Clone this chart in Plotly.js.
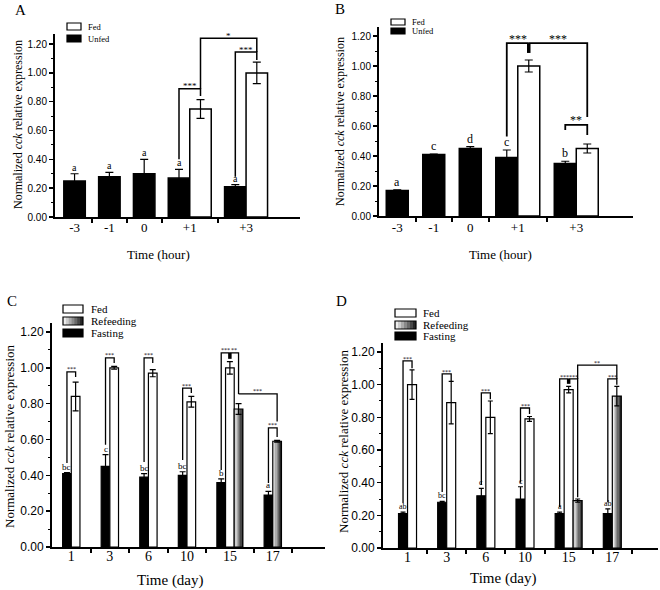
<!DOCTYPE html>
<html><head><meta charset="utf-8">
<script src="https://cdn.plot.ly/plotly-3.0.1.min.js"></script>
<style>html,body{margin:0;padding:0;background:#fff;} #chart{width:660px;height:590px;}</style>
</head><body><div id="chart"></div>
<script>
// ================= DATA =================
// Panel A – time in hours
const hoursA = ['-3', '-1', '0', '+1', '+3'];
const unfedA = [0.25, 0.28, 0.30, 0.27, 0.21];
const unfedErrA = [0.05, 0.03, 0.10, 0.06, 0.015];
const fedA = [null, null, null, 0.75, 1.00];
const fedErrA = [null, null, null, 0.065, 0.075];
const lettersA = ['a', 'a', 'a', 'a', 'a'];
// brackets: [group1, series1, group2, series2, level, leg1 bottom, leg2 bottom, label]
const sigA = [
  [3, 'Unfed', 3, 'Fed', 0.89, 0.40, 0.84, '***'],
  [4, 'Unfed', 4, 'Fed', 1.145, 0.28, 1.09, '***'],
  [3, 'Fed', 4, 'Fed', 1.24, 0.89, 1.145, '*']
];
const stemA = [];

// Panel B – time in hours
const hoursB = ['-3', '-1', '0', '+1', '+3'];
const unfedB = [0.17, 0.41, 0.45, 0.39, 0.35];
const unfedErrB = [0.005, 0.003, 0.012, 0.05, 0.015];
const fedB = [null, null, null, 1.00, 0.45];
const fedErrB = [null, null, null, 0.04, 0.03];
const lettersB = ['a', 'c', 'd', 'c', 'b'];
const sigB = [
  [3, 'Unfed', 3, 'Fed', 1.153, 0.53, 1.153, '***'],
  [3, 'Fed', 4, 'Fed', 1.153, 1.153, 0.66, '***'],
  [4, 'Unfed', 4, 'Fed', 0.607, 0.573, 0.54, '**']
];
const stemB = [[3, 'Fed', 1.087, 1.153]];

// Panel C – time in days
const daysC = ['1', '3', '6', '10', '15', '17'];
const fastingC = [0.41, 0.45, 0.39, 0.40, 0.36, 0.29];
const fastingErrC = [0.005, 0.065, 0.02, 0.02, 0.02, 0.02];
const fedC = [0.84, 1.00, 0.97, 0.81, 1.00, null];
const fedErrC = [0.08, 0.008, 0.02, 0.03, 0.035, null];
const refeedC = [null, null, null, null, 0.77, 0.59];
const refeedErrC = [null, null, null, null, 0.03, 0.005];
const lettersC = ['bc', 'c', 'bc', 'bc', 'b', 'a'];
const sigC = [
  [0, 'Fasting', 0, 'Fed', 0.977, 0.469, 0.949, '***'],
  [1, 'Fasting', 1, 'Fed', 1.055, 0.57, 1.027, '***'],
  [2, 'Fasting', 2, 'Fed', 1.055, 0.474, 1.027, '***'],
  [3, 'Fasting', 3, 'Fed', 0.887, 0.485, 0.86, '***'],
  [4, 'Fasting', 4, 'Fed', 1.083, 0.43, 1.083, '***'],
  [4, 'Fed', 4, 'Refeeding', 1.083, 1.083, 0.854, '**'],
  [4, 'Refeeding', 5, 'Refeeding', 0.854, 0.854, 0.70, '***'],
  [5, 'Fasting', 5, 'Refeeding', 0.665, 0.357, 0.614, '***']
];
const stemC = [[4, 'Fed', 1.05, 1.083]];

// Panel D – time in days
const daysD = ['1', '3', '6', '10', '15', '17'];
const fastingD = [0.21, 0.28, 0.32, 0.30, 0.21, 0.21];
const fastingErrD = [0.01, 0.005, 0.045, 0.075, 0.01, 0.03];
const fedD = [1.00, 0.89, 0.80, 0.79, 0.97, null];
const fedErrD = [0.09, 0.13, 0.10, 0.015, 0.02, null];
const refeedD = [null, null, null, null, 0.29, 0.93];
const refeedErrD = [null, null, null, null, 0.01, 0.06];
const lettersD = ['ab', 'bc', 'c', 'c', 'a', 'ab'];
const sigD = [
  [0, 'Fasting', 0, 'Fed', 1.145, 0.276, 1.10, '***'],
  [1, 'Fasting', 1, 'Fed', 1.066, 0.343, 1.02, '***'],
  [2, 'Fasting', 2, 'Fed', 0.95, 0.386, 0.91, '***'],
  [3, 'Fasting', 3, 'Fed', 0.857, 0.40, 0.82, '***'],
  [4, 'Fasting', 4, 'Fed', 1.035, 0.25, 1.035, '***'],
  [4, 'Fed', 4, 'Refeeding', 1.035, 1.035, 0.31, '***'],
  [5, 'Fasting', 5, 'Refeeding', 1.035, 0.28, 1.00, '***'],
  [4, 'Refeeding', 5, 'Refeeding', 1.12, 1.035, 1.035, '**']
];
const stemD = [[4, 'Fed', 1.005, 1.035]];

const yTitle = 'Normalized <i>cck</i> relative expression';
const xTitleHour = 'Time (hour)';
const xTitleDay = 'Time (day)';

// ================= STYLE / LAYOUT =================
const SERIF = '"Liberation Serif", "Times New Roman", serif';
const SANS = '"Liberation Sans", Arial, sans-serif';
const W = 660, H = 590;
const px = x => x / W, py = y => 1 - y / H;
const NSTEP = 7;
function gradColor(t) {
  const v = Math.round(238 - t * 200);
  return 'rgb(' + v + ',' + v + ',' + v + ')';
}

const panels = [
  { tag: 'A', labels: hoursA, xTitle: xTitleHour,
    series: [{ name: 'Unfed', vals: unfedA, err: unfedErrA, style: 'black' },
             { name: 'Fed', vals: fedA, err: fedErrA, style: 'white' }],
    legendOrder: ['Fed', 'Unfed'], letters: lettersA, sig: sigA, stems: stemA,
    xdom: [55, 300], ydom: [34, 217], xrange: [-0.1, 11.3], ymax: 1.27, gap: 0.62, endTick: false,
    yts: 10, xts: 13, xStandoff: -3, titleSize: 12, xTitleSize: 13, letterSize: 10, sigSize: 9, sigShift: -3.5,
    capW: 4, barLine: 1.5, brLine: 1.5,
    yTitlePos: [18, 125], xTitlePos: [158, 255], tagPos: [20, 10],
    leg: { x0: 67, x1: 81, tops: [23, 35], h: 7, tx: 86, size: 8.5 } },
  { tag: 'B', labels: hoursB, xTitle: xTitleHour,
    series: [{ name: 'Unfed', vals: unfedB, err: unfedErrB, style: 'black' },
             { name: 'Fed', vals: fedB, err: fedErrB, style: 'white' }],
    legendOrder: ['Fed', 'Unfed'], letters: lettersB, sig: sigB, stems: stemB,
    xdom: [379, 633], ydom: [27, 216], xrange: [0, 11.55], ymax: 1.26, gap: 0.66, endTick: false,
    yts: 10, xts: 13, xStandoff: -2, titleSize: 12, xTitleSize: 13, letterSize: 12, sigSize: 12, sigShift: -3.5,
    capW: 4, barLine: 1.5, brLine: 1.8,
    yTitlePos: [340, 122], xTitlePos: [500, 255], tagPos: [340, 9],
    leg: { x0: 391, x1: 405, tops: [19, 28], h: 6, tx: 410, size: 8.5 } },
  { tag: 'C', labels: daysC, xTitle: xTitleDay,
    series: [{ name: 'Fasting', vals: fastingC, err: fastingErrC, style: 'black' },
             { name: 'Fed', vals: fedC, err: fedErrC, style: 'white' },
             { name: 'Refeeding', vals: refeedC, err: refeedErrC, style: 'gradient' }],
    legendOrder: ['Fed', 'Refeeding', 'Fasting'], letters: lettersC, sig: sigC, stems: stemC,
    xdom: [52, 325], ydom: [323, 547], xrange: [0, 31.5], ymax: 1.25, gap: 2.45, endTick: true,
    yts: 12, xts: 14, xStandoff: -5, titleSize: 13, xTitleSize: 15, letterSize: 9, sigSize: 6, sigShift: -1.5,
    capW: 3, barLine: 1.2, brLine: 1.3,
    yTitlePos: [9, 436], xTitlePos: [170, 580], tagPos: [12, 301],
    leg: { x0: 63, x1: 83, tops: [305, 317, 329], h: 8, tx: 89, size: 11 } },
  { tag: 'D', labels: daysD, xTitle: xTitleDay,
    series: [{ name: 'Fasting', vals: fastingD, err: fastingErrD, style: 'black' },
             { name: 'Fed', vals: fedD, err: fedErrD, style: 'white' },
             { name: 'Refeeding', vals: refeedD, err: refeedErrD, style: 'gradient' }],
    legendOrder: ['Fed', 'Refeeding', 'Fasting'], letters: lettersD, sig: sigD, stems: stemD,
    xdom: [383, 658], ydom: [343, 548], xrange: [-0.55, 30.0], ymax: 1.255, gap: 2.35, endTick: true,
    yts: 12, xts: 14, xStandoff: -5, titleSize: 13, xTitleSize: 15, letterSize: 8, sigSize: 6, sigShift: -2,
    capW: 2.5, barLine: 1.2, brLine: 1.3,
    yTitlePos: [343, 441], xTitlePos: [503, 578], tagPos: [341, 301],
    leg: { x0: 395, x1: 416, tops: [309, 321, 332], h: 8, tx: 421, size: 11 } }
];

// place groups side by side; each group is as wide as its bars plus a gap
function layoutGroups(seriesVals, nGroups, gap) {
  const centers = seriesVals.map(() => new Array(nGroups).fill(null));
  const ends = [], mids = [];
  let pos = 0;
  for (let g = 0; g < nGroups; g++) {
    let k = 0;
    seriesVals.forEach((v, s) => {
      if (v[g] != null) { centers[s][g] = pos + gap / 2 + k + 0.5; k++; }
    });
    mids.push(pos + (k + gap) / 2);
    pos += k + gap;
    ends.push(pos);
  }
  return { centers, ends, mids };
}

const data = [], shapes = [], annotations = [];
const layout = {
  width: W, height: H, margin: { l: 0, r: 0, t: 0, b: 0 },
  paper_bgcolor: '#fff', plot_bgcolor: 'rgba(0,0,0,0)',
  showlegend: false, barmode: 'overlay', bargap: 0,
  shapes: shapes, annotations: annotations,
  font: { family: SERIF, color: '#000' }
};

function txt(x, y, text, size, family, opts) {
  annotations.push(Object.assign({ x: x, y: y, xref: 'paper', yref: 'paper', text: text,
    showarrow: false, font: { family: family, size: size, color: '#000' },
    xanchor: 'center', yanchor: 'middle' }, opts || {}));
}

panels.forEach((P, i) => {
  const n = i === 0 ? '' : String(i + 1);
  const xa = 'x' + n, ya = 'y' + n;
  const L = layoutGroups(P.series.map(s => s.vals), P.labels.length, P.gap);
  const sIdx = name => P.series.findIndex(s => s.name === name);
  const cx = (g, name) => L.centers[sIdx(name)][g];

  P.series.forEach((s, si) => {
    const xs = [], ys = [], es = [];
    s.vals.forEach((v, g) => { if (v != null) { xs.push(L.centers[si][g]); ys.push(v); es.push(s.err[g]); } });
    const eb = { type: 'data', array: es, visible: true, color: '#000', thickness: 1.2, width: P.capW };
    if (s.style === 'gradient') {
      for (let k = 0; k < NSTEP; k++) {
        const f = k / NSTEP;
        data.push({ type: 'bar', x: xs.map(c => c + f / 2), y: ys, width: 1 - f, xaxis: xa, yaxis: ya,
          marker: { color: gradColor(k / (NSTEP - 1)), line: { width: 0 } }, hoverinfo: 'skip', showlegend: false });
      }
      data.push({ type: 'bar', name: s.name, x: xs, y: ys, width: 1, xaxis: xa, yaxis: ya,
        marker: { color: 'rgba(0,0,0,0)', line: { color: '#000', width: P.barLine } }, error_y: eb });
    } else {
      data.push({ type: 'bar', name: s.name, x: xs, y: ys, width: 1, xaxis: xa, yaxis: ya,
        marker: { color: s.style === 'black' ? '#000' : '#fff', line: { color: '#000', width: P.barLine } },
        error_y: eb });
    }
  });

  layout['xaxis' + n] = {
    domain: [px(P.xdom[0]), px(P.xdom[1])], range: P.xrange, anchor: ya,
    showline: true, linecolor: '#000', linewidth: 2, showgrid: false, zeroline: false,
    tickmode: 'array', tickvals: L.mids, ticktext: P.labels, ticks: '',
    tickfont: { family: SERIF, size: P.xts, color: '#000' }, ticklabelstandoff: P.xStandoff,
    minor: { tickmode: 'array', tickvals: P.endTick ? L.ends : L.ends.slice(0, -1),
      ticks: 'outside', ticklen: 4, tickwidth: 2, tickcolor: '#000', showgrid: false },
    fixedrange: true
  };
  layout['yaxis' + n] = {
    domain: [py(P.ydom[1]), py(P.ydom[0])], range: [0, P.ymax], anchor: xa,
    showline: true, linecolor: '#000', linewidth: 2, showgrid: false, zeroline: false,
    tickmode: 'linear', tick0: 0, dtick: 0.2, tickformat: '.2f',
    ticks: 'outside', ticklen: 4, tickwidth: 1.5, tickcolor: '#000',
    tickfont: { family: SANS, size: P.yts, color: '#000' },
    minor: { dtick: 0.1, ticks: 'outside', ticklen: 2, tickwidth: 1, tickcolor: '#000', showgrid: false },
    fixedrange: true
  };

  // letters above first series bars
  const s0 = P.series[0];
  P.letters.forEach((t, g) => {
    if (s0.vals[g] == null) return;
    annotations.push({ x: L.centers[0][g], y: s0.vals[g] + s0.err[g], xref: xa, yref: ya, text: t,
      showarrow: false, yanchor: 'bottom', xanchor: 'center', borderpad: 0,
      font: { family: SERIF, size: P.letterSize, color: '#000' } });
  });

  // significance brackets
  P.sig.forEach(b => {
    const x1 = cx(b[0], b[1]), x2 = cx(b[2], b[3]);
    shapes.push({ type: 'path', xref: xa, yref: ya,
      path: 'M' + x1 + ',' + b[5] + ' L' + x1 + ',' + b[4] + ' L' + x2 + ',' + b[4] + ' L' + x2 + ',' + b[6],
      line: { color: '#000', width: P.brLine } });
    annotations.push({ x: (x1 + x2) / 2, y: b[4], xref: xa, yref: ya, text: b[7], showarrow: false,
      yanchor: 'bottom', xanchor: 'center', yshift: P.sigShift, borderpad: 0,
      font: { family: SERIF, size: P.sigSize, color: '#000' } });
  });
  P.stems.forEach(st => {
    const x = cx(st[0], st[1]);
    shapes.push({ type: 'line', xref: xa, yref: ya, x0: x, x1: x, y0: st[2], y1: st[3],
      line: { color: '#000', width: 3.5 } });
  });

  // titles and panel tag
  txt(px(P.yTitlePos[0]), py(P.yTitlePos[1]), yTitle, P.titleSize, SERIF, { textangle: -90 });
  txt(px(P.xTitlePos[0]), py(P.xTitlePos[1]), P.xTitle, P.xTitleSize, SERIF);
  txt(px(P.tagPos[0]), py(P.tagPos[1]), P.tag, 15, SERIF);

  // legend
  const Lg = P.leg;
  P.legendOrder.forEach((name, r) => {
    const style = P.series[sIdx(name)].style;
    const top = Lg.tops[r], bot = top + Lg.h;
    if (style === 'gradient') {
      for (let k = 0; k < NSTEP; k++) {
        const a = Lg.x0 + (Lg.x1 - Lg.x0) * k / NSTEP;
        shapes.push({ type: 'rect', xref: 'paper', yref: 'paper', x0: px(a), x1: px(Lg.x1), y0: py(bot), y1: py(top),
          fillcolor: gradColor(k / (NSTEP - 1)), line: { width: 0 } });
      }
    }
    shapes.push({ type: 'rect', xref: 'paper', yref: 'paper', x0: px(Lg.x0), x1: px(Lg.x1), y0: py(bot), y1: py(top),
      fillcolor: style === 'black' ? '#000' : (style === 'white' ? '#fff' : 'rgba(0,0,0,0)'),
      line: { color: '#000', width: 1.2 } });
    txt(px(Lg.tx), py((top + bot) / 2), name, Lg.size, SERIF, { xanchor: 'left' });
  });
});

Plotly.newPlot('chart', data, layout, { staticPlot: true, displayModeBar: false });
</script>
</body></html>
